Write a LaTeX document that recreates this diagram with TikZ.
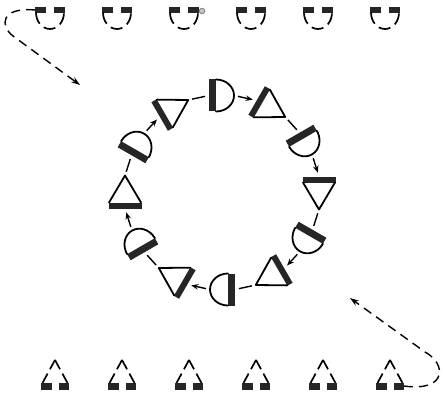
\documentclass[tikz,border=0pt]{standalone}
\usetikzlibrary{arrows.meta}

\begin{document}
\begin{tikzpicture}[x=1pt, y=1pt,
  bar/.style={fill=black!85},
  rim/.style={line width=1.8pt, line join=round, line cap=round},
  dashrim/.style={line width=1.7pt, line cap=butt},
  bond/.style={line width=1.4pt, shorten <=4pt, shorten >=4pt},
  arr/.style={bond, -{Stealth[length=7pt, width=5.5pt]}},
  trail/.style={line width=1.4pt, dash pattern=on 9pt off 6pt, -{Stealth[length=9pt, width=6pt]}},
  halfdisc/.pic={
    \fill[bar] (-13,-16) rectangle (-6,16);
    \draw[rim] (-6,16) arc[start angle=90, end angle=-90, x radius=18, y radius=16];
    \coordinate (-in) at (-13,0);
    \coordinate (-out) at (12,0);
  },
  wedge/.pic={
    \fill[bar] (-16,-16.5) rectangle (-10,16.5);
    \draw[rim] (-10,16) -- (17,0) -- (-10,-16);
    \coordinate (-in) at (-16,0);
    \coordinate (-out) at (17,0);
  },
  halfdiscdash/.pic={
    \fill[bar] (-15,0) rectangle (-4,6);
    \fill[bar] (4,0) rectangle (15,6);
    \draw[dashrim, dash pattern=on 12pt off 5.5pt] (-14,0.5) arc[start angle=180, end angle=360, x radius=14, y radius=16.5];
    \coordinate (-lft) at (-15,3);
    \coordinate (-rgt) at (15,3);
  },
  wedgedash/.pic={
    \fill[bar] (-14,0) rectangle (-3.5,-6.5);
    \fill[bar] (3.5,0) rectangle (14,-6.5);
    \draw[dashrim, dash pattern=on 10.5pt off 5pt] (0,23) -- (-12.5,0);
    \draw[dashrim, dash pattern=on 10.5pt off 5pt] (0,23) -- (12.5,0);
    \coordinate (-lft) at (-14,-3);
    \coordinate (-rgt) at (14,-3);
  }
]
  \useasboundingbox (0,0) rectangle (443,394);

  % Top row: free half discs
  \pic (up1) at (50,381) {halfdiscdash};
  \pic (up2) at (117,381) {halfdiscdash};
  \pic (up3) at (184,381) {halfdiscdash};
  \pic (up4) at (251,381) {halfdiscdash};
  \pic (up5) at (318,381) {halfdiscdash};
  \pic (up6) at (385,381) {halfdiscdash};
  \filldraw[draw=gray, fill=gray!45, line width=0.8pt] (up3-rgt) ++(3,-1) circle (2.8);

  % Bottom row: free wedges
  \pic (lo1) at (55,11) {wedgedash};
  \pic (lo2) at (122,11) {wedgedash};
  \pic (lo3) at (189,11) {wedgedash};
  \pic (lo4) at (256,11) {wedgedash};
  \pic (lo5) at (323,11) {wedgedash};
  \pic (lo6) at (390,11) {wedgedash};

  % Ring
  \begin{scope}[shift={(222,201.5)}]
    \pic[rotate=0] (d1) at (90:97) {halfdisc};
    \pic[rotate=-30] (t1) at (60:97) {wedge};
    \pic[rotate=-60] (d2) at (30:97) {halfdisc};
    \pic[rotate=-90] (t2) at (0:97) {wedge};
    \pic[rotate=-120] (d3) at (-30:97) {halfdisc};
    \pic[rotate=-150] (t3) at (-60:97) {wedge};
    \pic[rotate=-180] (d4) at (-90:97) {halfdisc};
    \pic[rotate=-210] (t4) at (-120:97) {wedge};
    \pic[rotate=-240] (d5) at (-150:97) {halfdisc};
    \pic[rotate=-270] (t5) at (180:97) {wedge};
    \pic[rotate=-300] (d6) at (150:97) {halfdisc};
    \pic[rotate=-330] (t6) at (120:97) {wedge};
  \end{scope}

  \draw[arr] (d1-out) -- (t1-in);
  \draw[bond] (t1-out) -- (d2-in);
  \draw[arr] (d2-out) -- (t2-in);
  \draw[bond] (t2-out) -- (d3-in);
  \draw[arr] (d3-out) -- (t3-in);
  \draw[bond] (t3-out) -- (d4-in);
  \draw[arr] (d4-out) -- (t4-in);
  \draw[bond] (t4-out) -- (d5-in);
  \draw[arr] (d5-out) -- (t5-in);
  \draw[bond] (t5-out) -- (d6-in);
  \draw[arr] (d6-out) -- (t6-in);
  \draw[bond] (t6-out) -- (d1-in);

  % Entry and exit
  \coordinate (ringin) at (80,309);
  \coordinate (ringout) at (350,96);
  \draw[trail] (up1-lft) .. controls (0,387) and (0,368) .. (13,358) -- (ringin);
  \draw[trail] (lo6-rgt) .. controls (447,2) and (447,30) .. (425,42) -- (ringout);
\end{tikzpicture}
\end{document}
